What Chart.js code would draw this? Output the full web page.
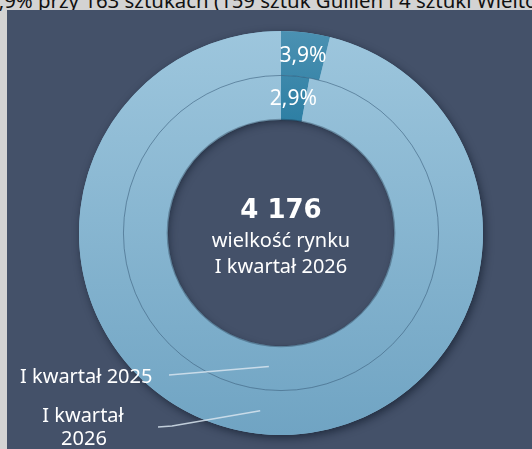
<!DOCTYPE html>
<html>
<head>
<meta charset="utf-8">
<script src="https://cdn.jsdelivr.net/npm/chart.js@4.4.0/dist/chart.umd.min.js"></script>
<style>
  body { margin: 0; background: #d3d3d3; width: 532px; height: 449px; overflow: hidden; position: relative; font-family: "Noto Sans", "DejaVu Sans", sans-serif; }
  .caption { position: absolute; left: -13px; top: -14px; font-size: 20.4px; color: #111; white-space: nowrap; }
  .panel { position: absolute; left: 7px; top: 10px; width: 525px; height: 439px; background: #445169; }
  canvas { position: absolute; left: 0; top: 0; }
</style>
</head>
<body>
<div class="caption">3,9% przy 163 sztukach (159 sztuk Guillen i 4 sztuki Wieltona).</div>
<div class="panel"></div>
<canvas id="chart" width="532" height="449"></canvas>
<script>
// rings, outermost first
const periods = ["I kwartał 2026", "I kwartał 2025"];
const segments = ["udział", "reszta rynku"];
const share2026 = [3.9, 96.1];
const share2025 = [2.9, 97.1];
const shareLabels = ["3,9%", "2,9%"];
const marketSize = "4 176";
const centerLines = ["wielkość rynku", "I kwartał 2026"];

const FONT = '"Noto Sans", "DejaVu Sans", sans-serif';

function lightFill(ctx) {
  const ch = ctx.chart;
  if (!ch.chartArea) return "#8dbad4";
  const g = ch.ctx.createLinearGradient(0, ch.chartArea.top, 0, ch.chartArea.bottom);
  g.addColorStop(0, "#9dc6dd");
  g.addColorStop(1, "#70a4c3");
  return g;
}
function darkFill(ctx) {
  const ch = ctx.chart;
  if (!ch.chartArea) return "#2f7ea3";
  const g = ch.ctx.createLinearGradient(0, ch.chartArea.top, 0, ch.chartArea.top + 120);
  g.addColorStop(0, "#4b91b2");
  g.addColorStop(1, "#24799f");
  return g;
}
const fills = (ctx) => (ctx.dataIndex === 0 ? darkFill(ctx) : lightFill(ctx));

// shadow under the donut, ring divider, labels and center text
const decor = {
  id: "decor",
  beforeDatasetsDraw(chart) {
    const arc = chart.getDatasetMeta(0).data[0];
    const hole = chart.getDatasetMeta(1).data[0];
    const c = chart.ctx;
    c.save();
    c.shadowColor = "rgba(10,20,35,0.6)";
    c.shadowBlur = 9;
    c.shadowOffsetX = 2;
    c.shadowOffsetY = 3;
    c.fillStyle = "#86b5d0";
    c.beginPath();
    c.arc(arc.x, arc.y, arc.outerRadius, 0, Math.PI * 2);
    c.arc(arc.x, arc.y, hole.innerRadius + 2, 0, Math.PI * 2, true);
    c.fill();
    c.restore();
  },
  afterDatasetsDraw(chart) {
    const c = chart.ctx;
    const outer = chart.getDatasetMeta(0).data;
    const inner = chart.getDatasetMeta(1).data;
    const cx = outer[0].x, cy = outer[0].y;

    c.save();
    // divider between rings
    c.strokeStyle = "rgba(45,80,110,0.5)";
    c.lineWidth = 1;
    c.beginPath();
    c.arc(cx, cy, inner[0].outerRadius, 0, Math.PI * 2);
    c.stroke();

    // soft edge of the hole
    c.strokeStyle = "rgba(25,40,60,0.35)";
    c.lineWidth = 1.5;
    c.beginPath();
    c.arc(cx, cy, inner[0].innerRadius + 0.5, 0, Math.PI * 2);
    c.stroke();

    // share labels
    c.fillStyle = "#ffffff";
    c.font = "21px " + FONT;
    c.textAlign = "center";
    c.textBaseline = "middle";
    [outer[0], inner[0]].forEach((a, i) => {
      const p = a.tooltipPosition();
      c.fillText(shareLabels[i], p.x, p.y + 1);
    });

    // leader lines to the rings
    const ang = (186 - 90) * Math.PI / 180;
    const pt = (a) => {
      const r = (a.innerRadius + a.outerRadius) / 2;
      return [cx + r * Math.cos(ang), cy + r * Math.sin(ang)];
    };
    c.strokeStyle = "rgba(215,228,238,0.85)";
    c.lineWidth = 1.5;
    let e = pt(inner[0]);
    c.beginPath();
    c.moveTo(169, 375);
    c.lineTo(e[0] + 2, e[1] - 1);
    c.stroke();
    e = pt(outer[0]);
    c.beginPath();
    c.moveTo(158, 427);
    c.lineTo(172, 426);
    c.lineTo(e[0] - 2, e[1] - 1);
    c.stroke();

    c.textBaseline = "alphabetic";
    c.font = "20px " + FONT;
    c.textAlign = "left";
    c.fillText(periods[1], 20, 383);
    c.textAlign = "center";
    c.fillText("I kwartał", 83, 422);
    c.fillText("2026", 84, 445);

    // center
    c.font = 'bold 26px "DejaVu Sans", sans-serif';
    c.fillText(marketSize, cx, cy - 15);
    c.font = "20px " + FONT;
    c.fillText(centerLines[0], cx, cy + 14);
    c.fillText(centerLines[1], cx, cy + 40);
    c.restore();
  }
};

new Chart(document.getElementById("chart"), {
  type: "doughnut",
  data: {
    labels: segments,
    datasets: [
      { label: periods[0], data: share2026, backgroundColor: fills, borderWidth: 0 },
      { label: periods[1], data: share2025, backgroundColor: fills, borderWidth: 0 }
    ]
  },
  options: {
    responsive: false,
    animation: false,
    cutout: "56%",
    layout: { padding: { left: 79, right: 49, top: 31, bottom: 14 } },
    plugins: { legend: { display: false }, tooltip: { enabled: false } }
  },
  plugins: [decor]
});
</script>
</body>
</html>
